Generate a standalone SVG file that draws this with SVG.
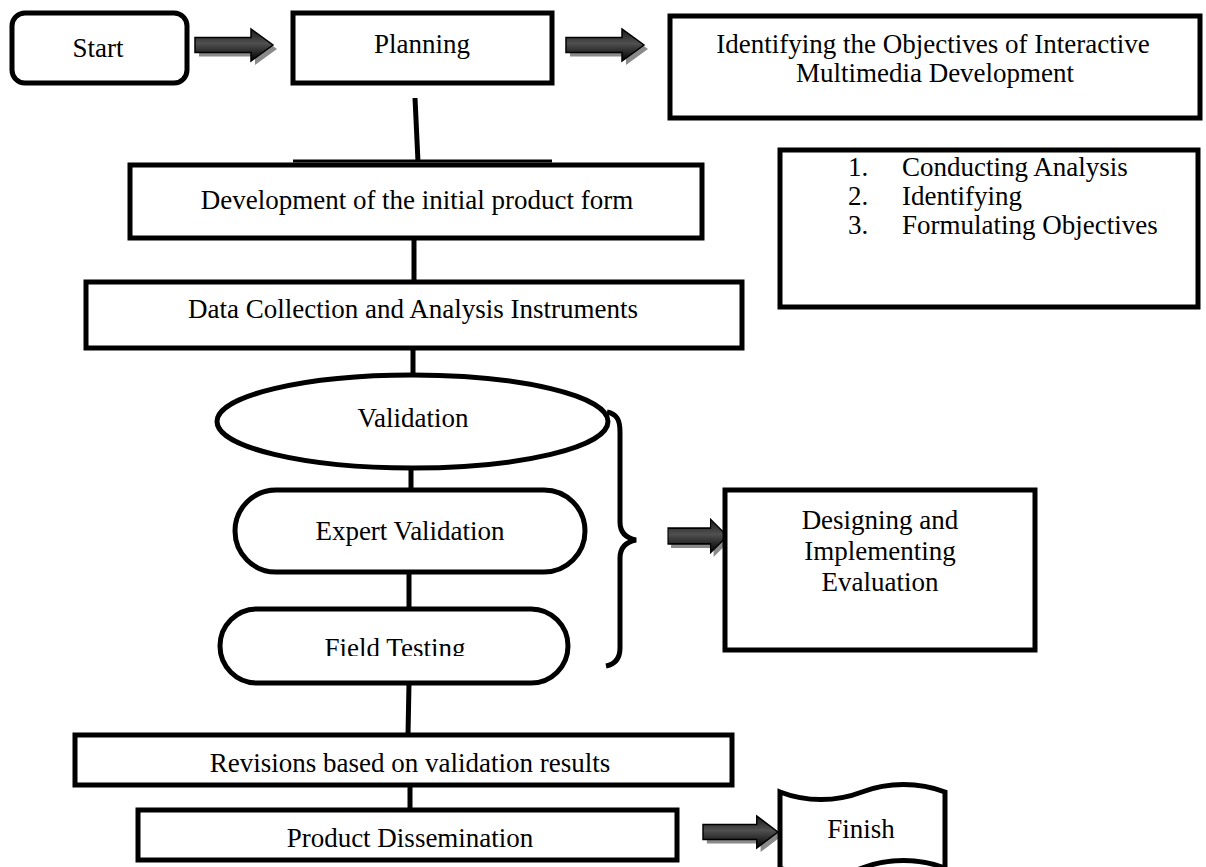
<svg xmlns="http://www.w3.org/2000/svg" xmlns:xlink="http://www.w3.org/1999/xlink" width="1206" height="867" viewBox="0 0 1206 867">
<style>
.box{fill:#fff;stroke:#000;stroke-width:5}
.ln{stroke:#000;stroke-width:5;fill:none}
.t{font-family:"Liberation Serif","Times New Roman",serif;font-size:27px;fill:#000}
.c{text-anchor:middle}
.arr{fill:url(#ag);stroke:#000;stroke-width:1.5}
.sh{fill:#8a8a8a}
</style>
<defs>
<linearGradient id="ag" x1="0" y1="0" x2="0" y2="1">
<stop offset="0" stop-color="#1a1a1a"/>
<stop offset="0.45" stop-color="#505050"/>
<stop offset="1" stop-color="#000"/>
</linearGradient>
<path id="arrow" d="M0,-7.5 H56 V-16 L78,0 L56,16 V7.5 H0 Z"/>
<clipPath id="ftclip"><rect x="200" y="600" width="400" height="56"/></clipPath>
</defs>

<g id="connectors">
<line class="ln" x1="415" y1="98" x2="418" y2="162"/>
<line x1="293" y1="161" x2="552" y2="161" stroke="#000" stroke-width="3"/>
<line class="ln" x1="414" y1="238" x2="414" y2="282"/>
<line class="ln" x1="413" y1="348" x2="413" y2="375"/>
<line class="ln" x1="411" y1="468" x2="411" y2="490"/>
<line class="ln" x1="409" y1="572" x2="409" y2="609"/>
<line class="ln" x1="409" y1="683" x2="408" y2="735"/>
<line class="ln" x1="410" y1="785" x2="410" y2="810"/>
<path class="ln" d="M607,412 C617,414 620,420 620,432 V522 C620,532 626,538 636,540 C626,542 620,548 620,558 V648 C620,658 616,664 606,666"/>
<g id="arrow1" transform="translate(195,45)">
<use href="#arrow" class="sh" transform="translate(4,4)"/>
<use href="#arrow" class="arr"/>
</g>
<g id="arrow2" transform="translate(566,45)">
<use href="#arrow" class="sh" transform="translate(4,4)"/>
<use href="#arrow" class="arr"/>
</g>
<g id="arrow3" transform="translate(668,536) scale(0.76,1.05)">
<use href="#arrow" class="sh" transform="translate(4,4)"/>
<use href="#arrow" class="arr"/>
</g>
<g id="arrow4" transform="translate(703,832) scale(0.96,1)">
<use href="#arrow" class="sh" transform="translate(4,4)"/>
<use href="#arrow" class="arr"/>
</g>
</g>

<g id="start">
<rect class="box" x="12" y="13" width="175" height="70" rx="13"/>
<text class="t c" x="98" y="57">Start</text>
</g>
<g id="planning">
<rect class="box" x="293" y="13" width="259" height="70"/>
<text class="t c" x="422" y="53">Planning</text>
</g>
<g id="objectives">
<rect class="box" x="670" y="16" width="530" height="102"/>
<text class="t c" x="933" y="53">Identifying the Objectives of Interactive</text>
<text class="t c" x="935" y="82">Multimedia Development</text>
</g>
<g id="steps">
<rect class="box" x="780" y="150" width="418" height="157"/>
<text class="t" x="848" y="176">1.</text>
<text class="t" x="902" y="176">Conducting Analysis</text>
<text class="t" x="848" y="205">2.</text>
<text class="t" x="902" y="205">Identifying</text>
<text class="t" x="848" y="234">3.</text>
<text class="t" x="902" y="234">Formulating Objectives</text>
</g>
<g id="development">
<rect class="box" x="130" y="165" width="572" height="73"/>
<text class="t c" x="417" y="209">Development of the initial product form</text>
</g>
<g id="data">
<rect class="box" x="86" y="282" width="656" height="66"/>
<text class="t c" x="413" y="318">Data Collection and Analysis Instruments</text>
</g>
<g id="validation">
<ellipse class="box" cx="412.5" cy="421.5" rx="195.5" ry="46.5"/>
<text class="t c" x="413" y="427">Validation</text>
</g>
<g id="expert">
<rect class="box" x="235" y="490" width="350" height="82" rx="41"/>
<text class="t c" x="410" y="540">Expert Validation</text>
</g>
<g id="field">
<rect class="box" x="220" y="609" width="348" height="74" rx="37"/>
<text class="t c" x="395" y="657" clip-path="url(#ftclip)">Field Testing</text>
</g>
<g id="evaluation">
<rect class="box" x="725" y="490" width="310" height="160"/>
<text class="t c" x="880" y="529">Designing and</text>
<text class="t c" x="880" y="560">Implementing</text>
<text class="t c" x="880" y="591">Evaluation</text>
</g>
<g id="revisions">
<rect class="box" x="75" y="735" width="657" height="50"/>
<text class="t c" x="410" y="772">Revisions based on validation results</text>
</g>
<g id="dissemination">
<rect class="box" x="138" y="810" width="539" height="50"/>
<text class="t c" x="410" y="847">Product Dissemination</text>
</g>
<g id="finish">
<path class="box" d="M780,792 C806,802 836,802 862,792 C888,782 919,782 945,792 L945,868 C919,858 888,858 862,868 C836,878 806,878 780,868 Z"/>
<text class="t c" x="861" y="838">Finish</text>
</g>
</svg>
